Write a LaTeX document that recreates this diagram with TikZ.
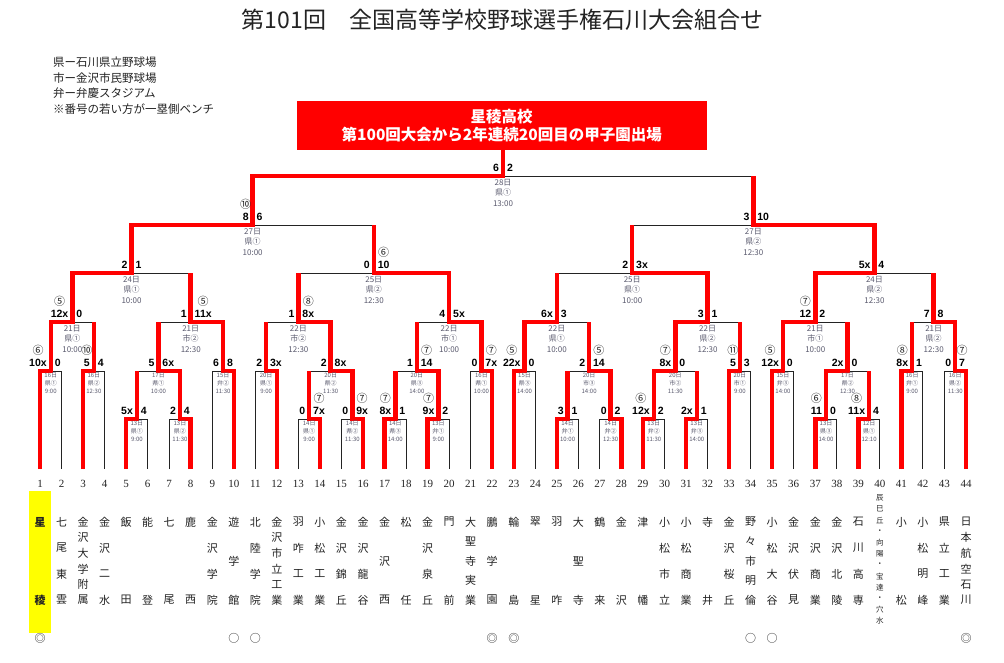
\documentclass[tikz,border=0pt]{standalone}
\usepackage{fontspec}
\setmainfont{Liberation Serif}
\setsansfont{Liberation Sans}
\newfontfamily\jpfont{Noto Sans CJK JP}
\definecolor{winred}{RGB}{255,0,0}
\definecolor{seedyellow}{RGB}{255,255,0}
\definecolor{infogray}{RGB}{90,90,110}
\definecolor{ink}{RGB}{35,35,35}
\usepackage{tikz}
\usetikzlibrary{calc}
\tikzstyle{base}=[inner sep=0pt, outer sep=0pt]
\tikzstyle{wire}=[ink, line width=0.9pt]
\tikzstyle{redwire}=[winred, line width=4.5pt, line join=miter]
\tikzstyle{title}=[text=ink, font=\jpfont\fontsize{23}{26}\selectfont]
\tikzstyle{legend}=[text=ink, font=\jpfont\fontsize{11.5}{14}\selectfont]
\tikzstyle{banner}=[fill=winred, text=white, align=center, minimum width=410pt, minimum height=49pt, font=\jpfont\bfseries\fontsize{15.5}{17.5}\selectfont]
\tikzstyle{score}=[text=black, font=\sffamily\bfseries\fontsize{10.5}{12}\selectfont]
\tikzstyle{ring}=[text=ink, font=\jpfont\fontsize{11}{12}\selectfont]
\tikzstyle{infobig}=[anchor=north, yshift=-3pt, align=center, text=infogray, font=\jpfont\fontsize{8}{10.5}\selectfont]
\tikzstyle{infosmall}=[anchor=north, yshift=-2pt, align=center, text=infogray, font=\jpfont\fontsize{6}{8}\selectfont]
\tikzstyle{team}=[text=ink, font=\jpfont\fontsize{11}{12}\selectfont]
\tikzstyle{num}=[text=ink, font=\fontsize{11}{12}\selectfont]
% name/left/right/level/parent level/winner
\newcommand*{\bouts}{m1/t1/t2/371/322/t1, m2/t3/t4/371/322/t3, m3/m1/m2/322/273/m1,
  m4/t5/t6/419/371/t5, m5/t7/t8/419/371/t8, m6/m4/m5/371/322/m5, m7/t9/t10/371/322/t10,
  m8/m6/m7/322/273/m7, m9/m3/m8/273/225/m3,
  m10/t11/t12/371/322/t12, m11/t13/t14/419/371/t14, m12/t15/t16/419/371/t16,
  m13/m11/m12/371/322/m12, m14/m10/m13/322/273/m13, m15/t17/t18/419/371/t17,
  m16/t19/t20/419/371/t19, m17/m15/m16/371/322/m16, m18/t21/t22/371/322/t22,
  m19/m17/m18/322/273/m18, m20/m14/m19/273/225/m19, m21/m9/m20/225/176/m9,
  m22/t23/t24/371/322/t23, m23/t25/t26/419/371/t25, m24/t27/t28/419/371/t28,
  m25/m23/m24/371/322/m24, m26/m22/m25/322/273/m22, m27/t29/t30/419/371/t29,
  m28/t31/t32/419/371/t31, m29/m27/m28/371/322/m27, m30/t33/t34/371/322/t33,
  m31/m29/m30/322/273/m29, m32/m26/m31/273/225/m31,
  m33/t35/t36/371/322/t35, m34/t37/t38/419/371/t37, m35/t39/t40/419/371/t39,
  m36/m34/m35/371/322/m34, m37/m33/m36/322/273/m33, m38/t41/t42/371/322/t41,
  m39/t43/t44/371/322/t44, m40/m38/m39/322/273/m39, m41/m37/m40/273/225/m37,
  m42/m32/m41/225/176/m41, m43/m21/m42/176/150/m21}
\begin{document}
\begin{tikzpicture}[base, x=1pt, y=-1pt]
    \path [use as bounding box, fill=white] (0,0) rectangle (1004,663);
    % heading
    \node [title] (title) at (502.5,20) {第101回　全国高等学校野球選手権石川大会組合せ};
    \foreach \txt [count=\k] in {県ー石川県立野球場, 市ー金沢市民野球場, 弁ー弁慶スタジアム, ※番号の若い方が一塁側ベンチ}
        \node [legend, anchor=west] (legend\k) at (53,{46.5+\k*15.7}) {\txt};
    \node [banner] (box) at (501.7,125.5) {星稜高校\\第100回大会から2年連続20回目の甲子園出場};
    % bracket
    \foreach \i in {1,...,44}
        \coordinate (t\i) at ({40+(\i-1)*21.535},469);
    \foreach \mn/\ma/\mb/\my/\mt/\mw in \bouts {
        \coordinate (tmp) at ($(\ma)!0.5!(\mb)$);
        \coordinate (\mn) at (tmp |- 0,\my);
        \draw [wire] (\ma) -- (\ma |- \mn) -- (\mb |- \mn) -- (\mb);
    }
    \foreach \mn/\ma/\mb/\my/\mt/\mw in \bouts
        \draw [redwire] (\mw) -- (\mw |- \mn) -- (\mn) -- (\mn |- 0,\mt);
    % scores
    \foreach \mn/\lsc/\rsc in {m1/10x/0, m2/5/4, m3/12x/0, m4/5x/4, m5/2/4, m6/5/6x, m7/6/8,
        m8/1/11x, m9/2/1, m10/2/3x, m11/0/7x, m12/0/9x, m13/2/8x, m14/1/8x, m15/8x/1,
        m16/9x/2, m17/1/14, m18/0/7x, m19/4/5x, m20/0/10, m21/8/6, m22/22x/0, m23/3/1,
        m24/0/2, m25/2/14, m26/6x/3, m27/12x/2, m28/2x/1, m29/8x/0, m30/5/3, m31/3/1,
        m32/2/3x, m33/12x/0, m34/11/0, m35/11x/4, m36/2x/0, m37/12/2, m38/8x/1, m39/0/7,
        m40/7/8, m41/5x/4, m42/3/10, m43/6/2} {
        \node [score, anchor=base east] (\mn-l) at ([xshift=-4pt, yshift=4.5pt]\mn) {\lsc};
        \node [score, anchor=base west] (\mn-r) at ([xshift=4pt, yshift=4.5pt]\mn) {\rsc};
    }
    \foreach \sc/\ch in {m1-l/⑥, m2-l/⑩, m3-l/⑤, m8-r/⑤, m11-r/⑦, m12-r/⑦, m14-r/⑧,
        m15-l/⑦, m16-l/⑦, m17-r/⑦, m18-r/⑦, m20-r/⑥, m21-l/⑩, m22-l/⑤, m25-r/⑤,
        m27-l/⑥, m29-l/⑦, m30-l/⑪, m33-l/⑤, m34-l/⑥, m35-l/⑧, m37-l/⑦, m38-l/⑧, m39-r/⑦}
        \node [ring] (r-\sc) at ([yshift=12.5pt]\sc.center) {\ch};
    % day, ground, time
    \foreach \mn/\st/\mday/\mplace/\mtime in {m1/infosmall/16日/県①/9:00,
        m2/infosmall/16日/県②/12:30, m3/infobig/21日/県①/10:00, m4/infosmall/13日/県①/9:00,
        m5/infosmall/13日/県②/11:30, m6/infosmall/17日/県①/10:00, m7/infosmall/15日/弁②/11:30,
        m8/infobig/21日/市②/12:30, m9/infobig/24日/県①/10:00, m10/infosmall/20日/県①/9:00,
        m11/infosmall/14日/県①/9:00, m12/infosmall/14日/県②/11:30, m13/infosmall/20日/県②/11:30,
        m14/infobig/22日/市②/12:30, m15/infosmall/14日/県③/14:00, m16/infosmall/13日/弁①/9:00,
        m17/infosmall/20日/県③/14:00, m18/infosmall/16日/県①/10:00, m19/infobig/22日/市①/10:00,
        m20/infobig/25日/県②/12:30, m21/infobig/27日/県①/10:00, m22/infosmall/15日/県③/14:00,
        m23/infosmall/14日/弁①/10:00, m24/infosmall/14日/弁②/12:30, m25/infosmall/20日/市③/14:00,
        m26/infobig/22日/県①/10:00, m27/infosmall/13日/弁②/11:30, m28/infosmall/13日/弁③/14:00,
        m29/infosmall/20日/市②/11:30, m30/infosmall/20日/市①/9:00, m31/infobig/22日/県②/12:30,
        m32/infobig/25日/県①/10:00, m33/infosmall/15日/弁③/14:00, m34/infosmall/13日/県③/14:00,
        m35/infosmall/12日/県①/12:10, m36/infosmall/17日/県②/12:30, m37/infobig/21日/市①/10:00,
        m38/infosmall/16日/弁①/9:00, m39/infosmall/16日/県②/11:30, m40/infobig/21日/県②/12:30,
        m41/infobig/24日/県②/12:30, m42/infobig/27日/県②/12:30, m43/infobig/28日/県①/13:00}
        \node [\st] (\mn-i) at (\mn) {\mday\\\mplace\\\mtime};
    % teams
    \foreach \i in {1,...,44}
        \node [num] (n\i) at ([yshift=-15pt]t\i) {\i};
    \fill [seedyellow] (29,491) rectangle (51,633);
    \node [team, font=\jpfont\bfseries\fontsize{11}{12}\selectfont] (c1-1) at ([yshift=-53pt]t1) {星};
    \node [team, font=\jpfont\bfseries\fontsize{11}{12}\selectfont] (c1-2) at ([yshift=-131pt]t1) {稜};
    \foreach \i/\len/\chars in {2/4/{七,尾,東,雲}, 3/6/{金,沢,大,学,附,属}, 4/4/{金,沢,二,水},
        5/2/{飯,田}, 6/2/{能,登}, 7/2/{七,尾}, 8/2/{鹿,西}, 9/4/{金,沢,学,院}, 10/3/{遊,学,館},
        11/4/{北,陸,学,院}, 12/6/{金,沢,市,立,工,業}, 13/4/{羽,咋,工,業}, 14/4/{小,松,工,業},
        15/4/{金,沢,錦,丘}, 16/4/{金,沢,龍,谷}, 17/3/{金,沢,西}, 18/2/{松,任}, 19/4/{金,沢,泉,丘},
        20/2/{門,前}, 21/5/{大,聖,寺,実,業}, 22/3/{鵬,学,園}, 23/2/{輪,島}, 24/2/{翠,星},
        25/2/{羽,咋}, 26/3/{大,聖,寺}, 27/2/{鶴,来}, 28/2/{金,沢}, 29/2/{津,幡}, 30/4/{小,松,市,立},
        31/4/{小,松,商,業}, 32/2/{寺,井}, 33/4/{金,沢,桜,丘}, 34/5/{野,々,市,明,倫},
        35/4/{小,松,大,谷}, 36/4/{金,沢,伏,見}, 37/4/{金,沢,商,業}, 38/4/{金,沢,北,陵},
        39/4/{石,川,高,専}, 41/2/{小,松}, 42/4/{小,松,明,峰}, 43/4/{県,立,工,業},
        44/6/{日,本,航,空,石,川}}
        \foreach \ch [count=\k] in \chars
            \node [team] (c\i-\k) at ([yshift={-(53+(\k-1)*78/(\len-1))*1pt}]t\i) {\ch};
    \foreach \ch [count=\k] in {辰,巳,丘,・,向,陽,・,宝,達,・,穴,水}
        \node [team, font=\jpfont\fontsize{7.5}{8}\selectfont] (c40-\k) at ([yshift={-(29+(\k-1)*11.18)*1pt}]t40) {\ch};
    \foreach \i/\sym in {1/◎, 10/○, 11/○, 22/◎, 23/◎, 34/○, 35/○, 44/◎}
        \node [team] (s\i) at ([yshift=-169pt]t\i) {\sym};
\end{tikzpicture}
\end{document}
